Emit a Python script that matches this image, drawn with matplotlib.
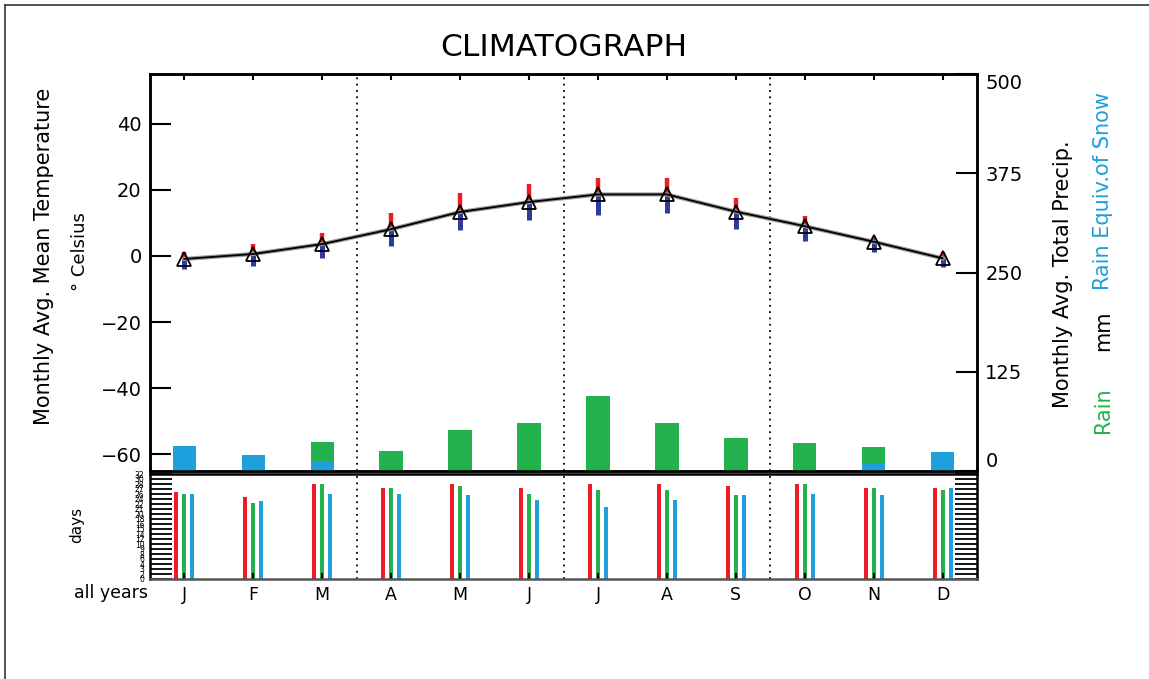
import numpy as np
import matplotlib
matplotlib.use('Agg')
import matplotlib.pyplot as plt
from matplotlib.lines import Line2D

# monthly values
months = ['J', 'F', 'M', 'A', 'M', 'J', 'J', 'A', 'S', 'O', 'N', 'D']
temp_mean = [-0.9, 0.6, 3.6, 8.1, 13.3, 16.3, 18.6, 18.6, 13.4, 9.0, 4.3, -0.7]
temp_max = [1.2, 3.6, 7.0, 13.1, 19.0, 21.7, 23.5, 23.5, 17.6, 12.1, 5.8, 1.3]
temp_min = [-4.0, -3.0, -0.5, 3.0, 7.8, 10.9, 12.4, 12.9, 8.1, 4.6, 1.3, -3.3]
snow_mm = [32, 20.5, 12, 0, 0, 0, 0, 0, 0, 0, 10, 23.5]
rain_mm = [0, 0, 25, 25, 52, 61, 95, 60, 42, 35, 20, 0]
days_red = [26.2, 24.5, 28.4, 27.3, 28.4, 27.3, 28.4, 28.4, 27.9, 28.4, 27.3, 27.3]
days_green = [25.4, 22.7, 28.4, 27.3, 27.9, 25.4, 26.7, 26.7, 25.2, 28.4, 27.3, 26.7]
days_blue = [25.6, 23.3, 25.6, 25.4, 25.2, 23.8, 21.6, 23.7, 25.2, 25.6, 25.2, 27.3]

RED = '#ee1c25'
GREEN = '#22b14c'
BLUE = '#1ea0dc'
DARKBLUE = '#2e3a9c'

plt.rcParams['font.family'] = 'DejaVu Sans'

W, H = 1149, 679
fig = plt.figure(figsize=(W / 100, H / 100), dpi=100)

def fx(px):
    return px / W

def fy(py):
    return 1 - py / H

x = np.arange(12) + 0.5

# upper panel: temperature + precipitation
ax_t = fig.add_axes([fx(150), fy(471), fx(977) - fx(150), fy(74) - fy(471)])
ax_t.set_xlim(0, 12)
ax_t.set_ylim(-65, 55)
ax_t.set_yticks([-60, -40, -20, 0, 20, 40])
ax_t.tick_params(axis='y', direction='in', length=15, width=1.5, labelsize=14, pad=6)
ax_t.set_xticks(x)
ax_t.tick_params(axis='x', direction='in', length=4, width=1.5, top=True, labelbottom=False)
for s in ax_t.spines.values():
    s.set_linewidth(1.8)

for v in [3, 6, 9]:
    ax_t.axvline(v, color='k', ls=(0, (1, 2.5)), lw=1.3)

ax_t.vlines(x, temp_mean, temp_max, color=RED, lw=3.2, zorder=3)
ax_t.vlines(x, temp_min, temp_mean, color=DARKBLUE, lw=3.6, zorder=3)
ax_t.plot(x, temp_mean, color='#999999', lw=3, zorder=4)
ax_t.plot(x, temp_mean, color='k', lw=1.3, marker='^', ms=10, mfc='none', mec='k', mew=1.3, zorder=5)

ax_p = ax_t.twinx()
ax_p.set_ylim(0, 500)
ax_p.set_yticks([0, 125, 250, 375, 500])
ax_p.tick_params(axis='y', direction='in', length=15, width=1.5, labelsize=14, pad=6)
ax_p.bar(x, snow_mm, width=0.34, color=BLUE)
ax_p.bar(x, rain_mm, width=0.34, bottom=snow_mm, color=GREEN)
lbls = ax_p.get_yticklabels()
lbls[0].set_va('bottom')
lbls[-1].set_va('top')
for s in ax_p.spines.values():
    s.set_linewidth(1.8)

# lower panel: days
ax_d = fig.add_axes([fx(150), fy(579), fx(977) - fx(150), fy(474) - fy(579)])
ax_d.set_xlim(0, 12)
ax_d.set_ylim(0, 31.5)
dticks = np.arange(0, 31.6, 1.5)
ax_d.set_yticks(dticks)
ax_d.set_yticklabels([str(int(round(v))) for v in dticks])
ax_d.tick_params(axis='y', direction='in', length=16, width=1.3, left=True, right=True,
                 labelsize=5.5, pad=4)
ax_d.set_xticks(x)
ax_d.set_xticklabels(months)
ax_d.tick_params(axis='x', direction='in', length=4, width=1.5, labelsize=12.5, pad=5)
for s in ax_d.spines.values():
    s.set_linewidth(1.8)
ax_d.spines['bottom'].set_color('#555555')

for v in [3, 6, 9]:
    ax_d.axvline(v, color='k', ls=(0, (1, 2.5)), lw=1.3)

bw = 0.058
ax_d.bar(x - 0.116, days_red, width=bw, color=RED)
ax_d.bar(x, days_green, width=bw, color=GREEN)
ax_d.bar(x + 0.116, days_blue, width=bw, color=BLUE)

# texts
fig.text(fx(563.5), fy(48), 'CLIMATOGRAPH', ha='center', va='center', fontsize=22.5)
fig.text(fx(44), fy(256), 'Monthly Avg. Mean Temperature', rotation=90,
         ha='center', va='center', fontsize=15)
fig.text(fx(80), fy(252), '\u00b0 Celsius', rotation=90, ha='center', va='center', fontsize=13)
fig.text(fx(77), fy(525), 'days', rotation=90, ha='center', va='center', fontsize=11)
fig.text(fx(148), fy(593), 'all years', ha='right', va='center', fontsize=12.5)
fig.text(fx(1063), fy(274), 'Monthly Avg. Total Precip.', rotation=90,
         ha='center', va='center', fontsize=15)
fig.text(fx(1103), fy(191), 'Rain Equiv.of Snow', rotation=90, ha='center', va='center',
         fontsize=15, color=BLUE)
fig.text(fx(1103), fy(331), 'mm', rotation=90, ha='center', va='center', fontsize=15)
fig.text(fx(1103), fy(410), 'Rain', rotation=90, ha='center', va='center', fontsize=15,
         color=GREEN)

# outer frame (top and left edges)
fig.add_artist(Line2D([fx(5), 1], [fy(5), fy(5)], transform=fig.transFigure, color='#333333', lw=1.2))
fig.add_artist(Line2D([fx(5), fx(5)], [0, fy(5)], transform=fig.transFigure, color='#333333', lw=1.2))

fig.savefig('out.png', dpi=100)
